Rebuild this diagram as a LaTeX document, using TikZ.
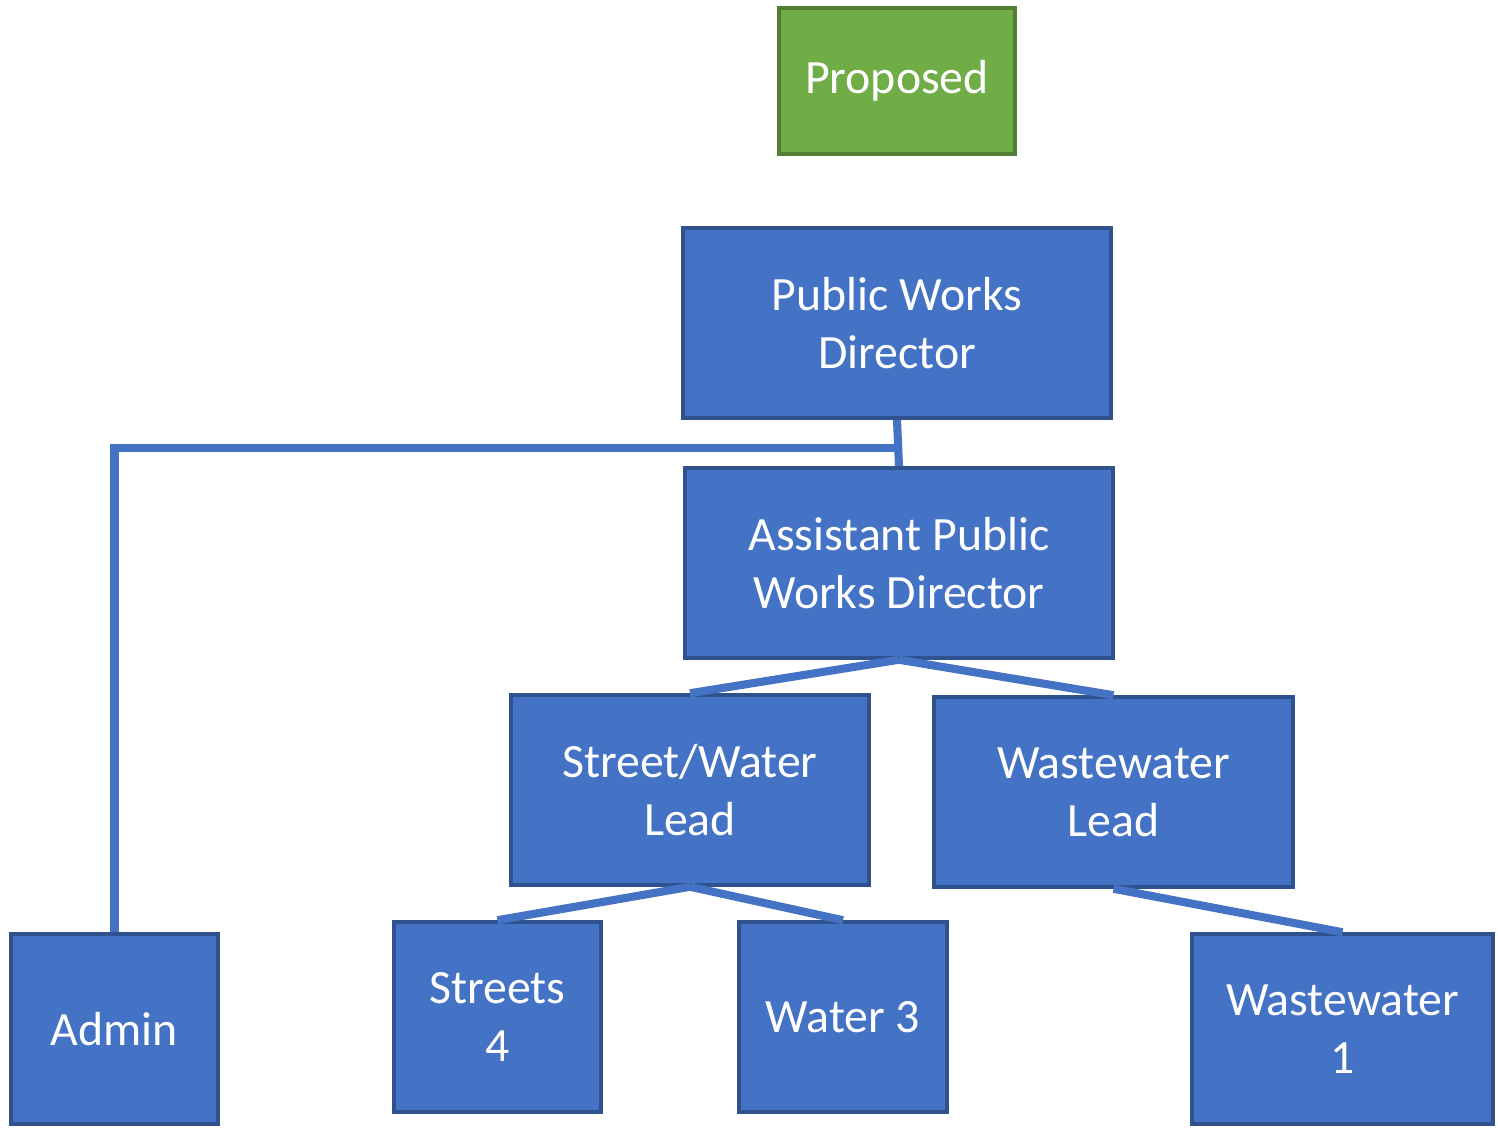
\documentclass[tikz,border=0pt]{standalone}
\usepackage{fontspec}
\setmainfont{Carlito}
\usepackage{tikz}

\definecolor{boxblue}{HTML}{4472C4}
\definecolor{boxline}{HTML}{2F528F}
\definecolor{boxgreen}{HTML}{70AD47}
\definecolor{greenline}{HTML}{507E32}

\begin{document}
\begin{tikzpicture}[x=1cm,y=1cm,
    every node/.style={draw=boxline,line width=1pt,fill=boxblue,text=white,align=center,
      font=\fontsize{13.6}{16.5}\selectfont,inner sep=0pt},
    link/.style={draw=boxblue,line width=2.3pt}]
  \useasboundingbox (0,0) rectangle (14.98,11.29);
  \node[fill=boxgreen,draw=greenline,minimum width=2.36cm,minimum height=1.46cm] (prop) at (8.97,10.48) {Proposed};
  \node[minimum width=4.28cm,minimum height=1.90cm] (pwd) at (8.97,8.06) {Public Works\\Director};
  \node[minimum width=4.28cm,minimum height=1.90cm] (apwd) at (8.99,5.66) {Assistant Public\\Works Director};
  \node[minimum width=3.58cm,minimum height=1.90cm] (swlead) at (6.90,3.39) {Street/Water\\Lead};
  \node[minimum width=3.59cm,minimum height=1.90cm] (wwlead) at (11.135,3.37) {Wastewater\\Lead};
  \node[minimum width=2.07cm,minimum height=1.90cm] (admin) at (1.145,1.00) {Admin};
  \node[minimum width=2.07cm,minimum height=1.90cm] (streets) at (4.975,1.12) {Streets\\4};
  \node[minimum width=2.08cm,minimum height=1.90cm] (water) at (8.43,1.12) {Water 3};
  \node[minimum width=3.01cm,minimum height=1.90cm] (ww1) at (13.425,1.00) {Wastewater\\1};

  \coordinate (elbow) at (8.985,6.81);
  \draw[link] (pwd.south) -- (apwd.north);
  \draw[link] (elbow) -| (admin.north);
  \draw[link] (apwd.south) -- (swlead.north);
  \draw[link] (apwd.south) -- (wwlead.north);
  \draw[link] (swlead.south) -- (streets.north);
  \draw[link] (swlead.south) -- (water.north);
  \draw[link] (wwlead.south) -- (ww1.north);
\end{tikzpicture}
\end{document}
